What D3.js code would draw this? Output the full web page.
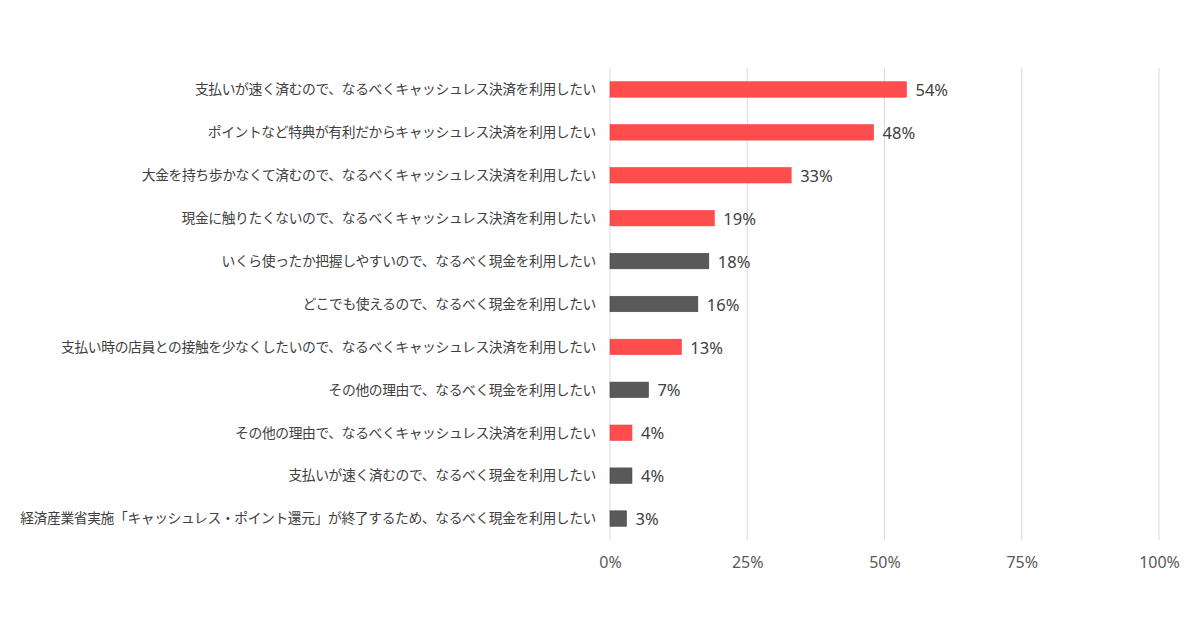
<!DOCTYPE html>
<html>
<head>
<meta charset="utf-8">
<script src="https://cdn.jsdelivr.net/npm/d3@7"></script>
<style>
  body { margin: 0; background: #fff; }
  text { font-family: "Noto Sans CJK JP", "Noto Sans", sans-serif; }
</style>
</head>
<body>
<div id="chart"></div>
<script>
// data
var categories = [
    "支払いが速く済むので、なるべくキャッシュレス決済を利用したい",
    "ポイントなど特典が有利だからキャッシュレス決済を利用したい",
    "大金を持ち歩かなくて済むので、なるべくキャッシュレス決済を利用したい",
    "現金に触りたくないので、なるべくキャッシュレス決済を利用したい",
    "いくら使ったか把握しやすいので、なるべく現金を利用したい",
    "どこでも使えるので、なるべく現金を利用したい",
    "支払い時の店員との接触を少なくしたいので、なるべくキャッシュレス決済を利用したい",
    "その他の理由で、なるべく現金を利用したい",
    "その他の理由で、なるべくキャッシュレス決済を利用したい",
    "支払いが速く済むので、なるべく現金を利用したい",
    "経済産業省実施「キャッシュレス・ポイント還元」が終了するため、なるべく現金を利用したい"
];
var values = [54, 48, 33, 19, 18, 16, 13, 7, 4, 4, 3];
var groups = ["cashless", "cashless", "cashless", "cashless", "cash", "cash",
              "cashless", "cash", "cashless", "cash", "cash"];
var ticks = [0, 25, 50, 75, 100];

var width = 1200;
var height = 630;

var svg = d3.select("#chart")
    .append("svg")
    .attr("width", width)
    .attr("height", height);

var x = d3.scaleLinear()
    .domain([0, 100])
    .range([610, 1159]);

var y = d3.scaleBand()
    .domain(categories)
    .range([68, 540])
    .paddingInner(0.64)
    .paddingOuter(0.32);

var color = d3.scaleOrdinal()
    .domain(["cashless", "cash"])
    .range(["#ff4d4d", "#595959"]);
var stroke = d3.scaleOrdinal()
    .domain(["cashless", "cash"])
    .range(["#f04040", "#444444"]);

// gridlines
svg.selectAll(".grid")
    .data(ticks)
    .enter()
    .append("line")
    .attr("x1", function (d) { return x(d); })
    .attr("x2", function (d) { return x(d); })
    .attr("y1", 68)
    .attr("y2", 540)
    .style("stroke", "#d9d9d9")
    .style("stroke-width", "1px");

// axis labels
var xAxis = d3.axisBottom(x)
    .tickValues(ticks)
    .tickSize(0)
    .tickPadding(0)
    .tickFormat(function (d) { return d + "%"; });

var axisG = svg.append("g")
    .attr("transform", "translate(0, 557)")
    .call(xAxis);
axisG.select(".domain").remove();
axisG.selectAll("text")
    .attr("font-size", "16px")
    .attr("fill", "#595959")
    .attr("dy", "0.7em")
    .style("font-family", "'Noto Sans', sans-serif");

// bars
svg.selectAll(".bar")
    .data(values)
    .enter()
    .append("rect")
    .attr("x", x(0))
    .attr("y", function (d, i) { return y(categories[i]); })
    .attr("width", function (d) { return x(d) - x(0); })
    .attr("height", y.bandwidth())
    .style("fill", function (d, i) { return color(groups[i]); })
    .style("stroke", function (d, i) { return stroke(groups[i]); })
    .style("stroke-width", "0.6px");

// value labels
svg.selectAll(".val")
    .data(values)
    .enter()
    .append("text")
    .attr("x", function (d) { return x(d) + 9; })
    .attr("y", function (d, i) { return y(categories[i]) + y.bandwidth() / 2; })
    .attr("dy", "0.4em")
    .attr("font-size", "16.5px")
    .attr("fill", "#404040")
    .style("font-family", "'Noto Sans', sans-serif")
    .text(function (d) { return d + "%"; });

// category labels
svg.selectAll(".cat")
    .data(categories)
    .enter()
    .append("text")
    .attr("x", 596)
    .attr("y", function (d) { return y(d) + y.bandwidth() / 2; })
    .attr("dy", "0.35em")
    .attr("text-anchor", "end")
    .attr("font-size", "13.8px")
    .attr("fill", "#404040")
    .attr("letter-spacing", "-0.4px")
    .text(function (d) { return d; });
</script>
</body>
</html>
